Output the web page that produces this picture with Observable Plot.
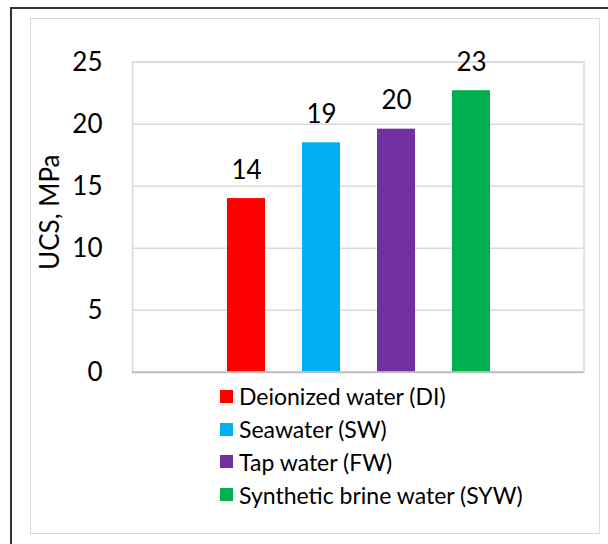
<!DOCTYPE html>
<html>
<head>
<meta charset="utf-8">
<script src="https://cdn.jsdelivr.net/npm/d3@7"></script>
<script src="https://cdn.jsdelivr.net/npm/@observablehq/plot@0.6"></script>
<style>
  html, body { margin: 0; padding: 0; background: #fff; }
  #wrap { position: relative; width: 608px; height: 544px; overflow: hidden; font-family: Lato, "Open Sans", sans-serif; }
  .outer { position: absolute; left: 10px; top: 7px; width: 700px; height: 700px; border-left: 2px solid #333; border-top: 2px solid #333; box-sizing: border-box; }
  .inner { position: absolute; left: 30px; top: 18px; width: 570px; height: 516px; border: 1.5px solid #d9d9d9; box-sizing: border-box; }
  #chart { position: absolute; left: 0; top: 0; }
  #legend { position: absolute; left: 220px; top: 380px; }
  .row { display: flex; align-items: center; height: 32.8px; font-size: 23px; color: #000; white-space: nowrap; }
  .sw { width: 13px; height: 13px; margin-right: 6px; flex: none; }
</style>
</head>
<body>
<div id="wrap">
  <div class="outer"></div>
  <div class="inner"></div>
  <div id="chart"></div>
  <div id="legend"></div>
</div>
<script>
const categories = ["Deionized water (DI)", "Seawater (SW)", "Tap water (FW)", "Synthetic brine water (SYW)"];
const ucsValues = [14.0, 18.5, 19.6, 22.7];
const barColors = ["#FF0000", "#00B0F0", "#7030A0", "#00B050"];
const yTicks = [0, 5, 10, 15, 20, 25];
const yLabel = "UCS, MPa";

const data = categories.map((c, i) => ({category: c, value: ucsValues[i], color: barColors[i]}));
const xDomain = ["__padL", ...categories, "__padR"];

const chart = Plot.plot({
  width: 608,
  height: 544,
  marginLeft: 132,
  marginRight: 24.5,
  marginTop: 61.7,
  marginBottom: 172.3,
  style: {background: "transparent", fontFamily: "Lato, 'Open Sans', sans-serif", color: "#000"},
  x: {domain: xDomain, paddingInner: 0.5, paddingOuter: 0.25, axis: null},
  y: {domain: [0, 25], axis: null},
  marks: [
    Plot.frame({stroke: "#d9d9d9", strokeWidth: 1.5}),
    Plot.gridY(yTicks, {stroke: "#d9d9d9", strokeOpacity: 1, strokeWidth: 1.5}),
    Plot.barY(data, {x: "category", y: "value", fill: "color"}),
    Plot.ruleY([0], {stroke: "#bfbfbf", strokeWidth: 2}),
    Plot.axisY(yTicks, {tickSize: 0, tickPadding: 30, fontSize: 26, label: null, fill: "#000"}),
    Plot.text(data, {x: "category", y: "value", text: d => String(Math.round(d.value)), lineAnchor: "bottom", dy: -20, fontSize: 26, fill: "#000"}),
    Plot.text([yLabel], {frameAnchor: "left", textAnchor: "middle", lineAnchor: "middle", text: d => d, rotate: -90, dx: -82, dy: -5, fontSize: 26, fill: "#000"})
  ]
});
document.getElementById("chart").appendChild(chart);

const legend = document.getElementById("legend");
categories.forEach((c, i) => {
  const row = document.createElement("div");
  row.className = "row";
  const sw = document.createElement("span");
  sw.className = "sw";
  sw.style.background = barColors[i];
  const t = document.createElement("span");
  t.textContent = c;
  row.appendChild(sw);
  row.appendChild(t);
  legend.appendChild(row);
});
</script>
</body>
</html>
